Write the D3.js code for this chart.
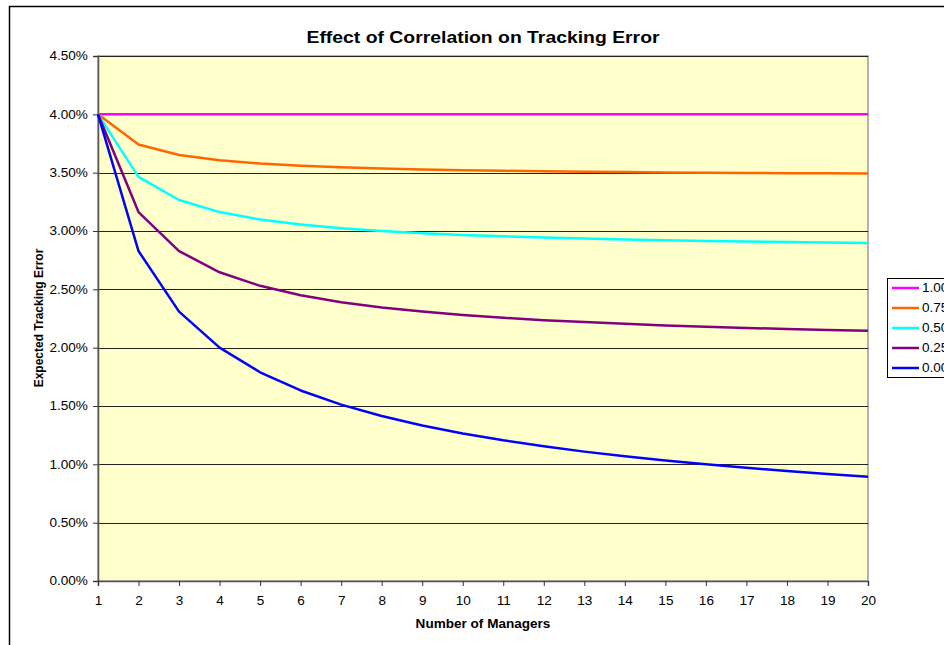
<!DOCTYPE html>
<html>
<head>
<meta charset="utf-8">
<script src="https://cdn.jsdelivr.net/npm/d3@7"></script>
<style>
  body { margin: 0; background: #fff; }
  svg { display: block; font-family: Arial, "Liberation Sans", sans-serif; }
</style>
</head>
<body>
<svg width="944" height="645"></svg>
<script>
// number of managers on the x axis
var managers = [1, 2, 3, 4, 5, 6, 7, 8, 9, 10, 11, 12, 13, 14, 15, 16, 17, 18, 19, 20];

// expected tracking error (%) by correlation
var rho100 = [4.000, 4.000, 4.000, 4.000, 4.000, 4.000, 4.000, 4.000, 4.000, 4.000,
              4.000, 4.000, 4.000, 4.000, 4.000, 4.000, 4.000, 4.000, 4.000, 4.000];
var rho075 = [4.000, 3.742, 3.651, 3.606, 3.578, 3.559, 3.546, 3.536, 3.528, 3.521,
              3.516, 3.512, 3.508, 3.505, 3.502, 3.500, 3.498, 3.496, 3.494, 3.493];
var rho050 = [4.000, 3.464, 3.266, 3.162, 3.098, 3.055, 3.024, 3.000, 2.981, 2.966,
              2.954, 2.944, 2.935, 2.928, 2.921, 2.915, 2.910, 2.906, 2.902, 2.898];
var rho025 = [4.000, 3.162, 2.828, 2.646, 2.530, 2.449, 2.390, 2.345, 2.309, 2.280,
              2.256, 2.236, 2.219, 2.204, 2.191, 2.179, 2.169, 2.160, 2.152, 2.145];
var rho000 = [4.000, 2.828, 2.309, 2.000, 1.789, 1.633, 1.512, 1.414, 1.333, 1.265,
              1.206, 1.155, 1.109, 1.069, 1.033, 1.000, 0.970, 0.943, 0.918, 0.894];

var seriesNames = ["1.00", "0.75", "0.50", "0.25", "0.00"];
var seriesValues = [rho100, rho075, rho050, rho025, rho000];
var yTicks = [0, 0.5, 1, 1.5, 2, 2.5, 3, 3.5, 4, 4.5];

var colors = ["#ff00ff", "#ff6600", "#00ffff", "#800080", "#0000ff"];

// the original picture is a little stretched sideways
var stretch = "scale(1.13,1)";

var svg = d3.select("svg");

// outer chart border (clipped by the window on the right and bottom)
svg.append("rect")
    .attr("x", 9.5).attr("y", 6.5)
    .attr("width", 1000).attr("height", 700)
    .attr("fill", "#fff")
    .attr("stroke", "#000")
    .attr("stroke-width", 1.5);

var margin = { top: 56, left: 98, right: 868, bottom: 581 };

var xScale = d3.scaleLinear().domain([1, 20]).range([margin.left, margin.right]),
    yScale = d3.scaleLinear().domain([0, 4.5]).range([margin.bottom, margin.top]);

// plot area
svg.append("rect")
    .attr("x", margin.left).attr("y", margin.top)
    .attr("width", margin.right - margin.left)
    .attr("height", margin.bottom - margin.top)
    .attr("fill", "#ffffcc")
    .attr("stroke", "#9a9a9a")
    .attr("stroke-width", 1.5);

// gridlines
svg.append("g")
    .selectAll("line")
    .data(yTicks.slice(1))
    .enter().append("line")
    .attr("x1", margin.left).attr("x2", margin.right)
    .attr("y1", function (d) { return Math.round(yScale(d)) + 0.5; })
    .attr("y2", function (d) { return Math.round(yScale(d)) + 0.5; })
    .attr("stroke", "#222")
    .attr("stroke-width", 1);

// axes
var yAxis = d3.axisLeft(yScale)
    .tickValues(yTicks)
    .tickSize(5)
    .tickPadding(4)
    .tickFormat(function (d) { return d.toFixed(2) + "%"; });

var gY = svg.append("g")
    .attr("transform", "translate(" + margin.left + ",0)")
    .call(yAxis);
gY.select(".domain").attr("stroke", "#555").attr("stroke-width", 1.5);
gY.selectAll(".tick line").attr("stroke", "#333");
gY.selectAll(".tick text").attr("font-size", "12px").attr("fill", "#000")
    .attr("font-family", "Arial, 'Liberation Sans', sans-serif")
    .attr("transform", stretch);

var xAxis = d3.axisBottom(xScale)
    .tickValues(managers)
    .tickSize(5)
    .tickPadding(10)
    .tickFormat(d3.format("d"));

var gX = svg.append("g")
    .attr("transform", "translate(0," + margin.bottom + ")")
    .call(xAxis);
gX.select(".domain").attr("stroke", "#555").attr("stroke-width", 1.5);
gX.selectAll(".tick line").attr("stroke", "#333");
gX.selectAll(".tick text").attr("font-size", "12px").attr("fill", "#000")
    .attr("font-family", "Arial, 'Liberation Sans', sans-serif")
    .attr("transform", stretch);

// lines
var line = d3.line()
    .x(function (d, i) { return xScale(managers[i]); })
    .y(function (d) { return yScale(d); });

svg.append("g")
    .selectAll("path")
    .data(seriesValues)
    .enter().append("path")
    .attr("d", function (d) { return line(d); })
    .attr("fill", "none")
    .attr("stroke", function (d, i) { return colors[i]; })
    .attr("stroke-width", 2.5)
    .attr("stroke-linejoin", "round");

// titles
svg.append("text")
    .attr("transform", "translate(483,43) scale(1.14,1)")
    .attr("text-anchor", "middle")
    .attr("font-size", "17px")
    .attr("font-weight", "bold")
    .text("Effect of Correlation on Tracking Error");

svg.append("text")
    .attr("transform", "translate(483,628) " + stretch)
    .attr("text-anchor", "middle")
    .attr("font-size", "12px")
    .attr("font-weight", "bold")
    .text("Number of Managers");

svg.append("text")
    .attr("transform", "translate(43,318) rotate(-90)")
    .attr("text-anchor", "middle")
    .attr("font-size", "12px")
    .attr("font-weight", "bold")
    .text("Expected Tracking Error");

// legend
var legend = svg.append("g").attr("transform", "translate(887,278)");
legend.append("rect")
    .attr("x", 0.5).attr("y", 0.5)
    .attr("width", 100).attr("height", 99)
    .attr("fill", "#fff")
    .attr("stroke", "#000")
    .attr("stroke-width", 1);

var item = legend.selectAll(".item")
    .data(seriesNames)
    .enter().append("g")
    .attr("class", "item")
    .attr("transform", function (d, i) { return "translate(0," + (10 + i * 20) + ")"; });

item.append("line")
    .attr("x1", 5).attr("x2", 32)
    .attr("stroke", function (d, i) { return colors[i]; })
    .attr("stroke-width", 2.5);

item.append("text")
    .attr("transform", "translate(35,0) " + stretch)
    .attr("dy", "0.35em")
    .attr("font-size", "12px")
    .text(function (d) { return d; });
</script>
</body>
</html>
